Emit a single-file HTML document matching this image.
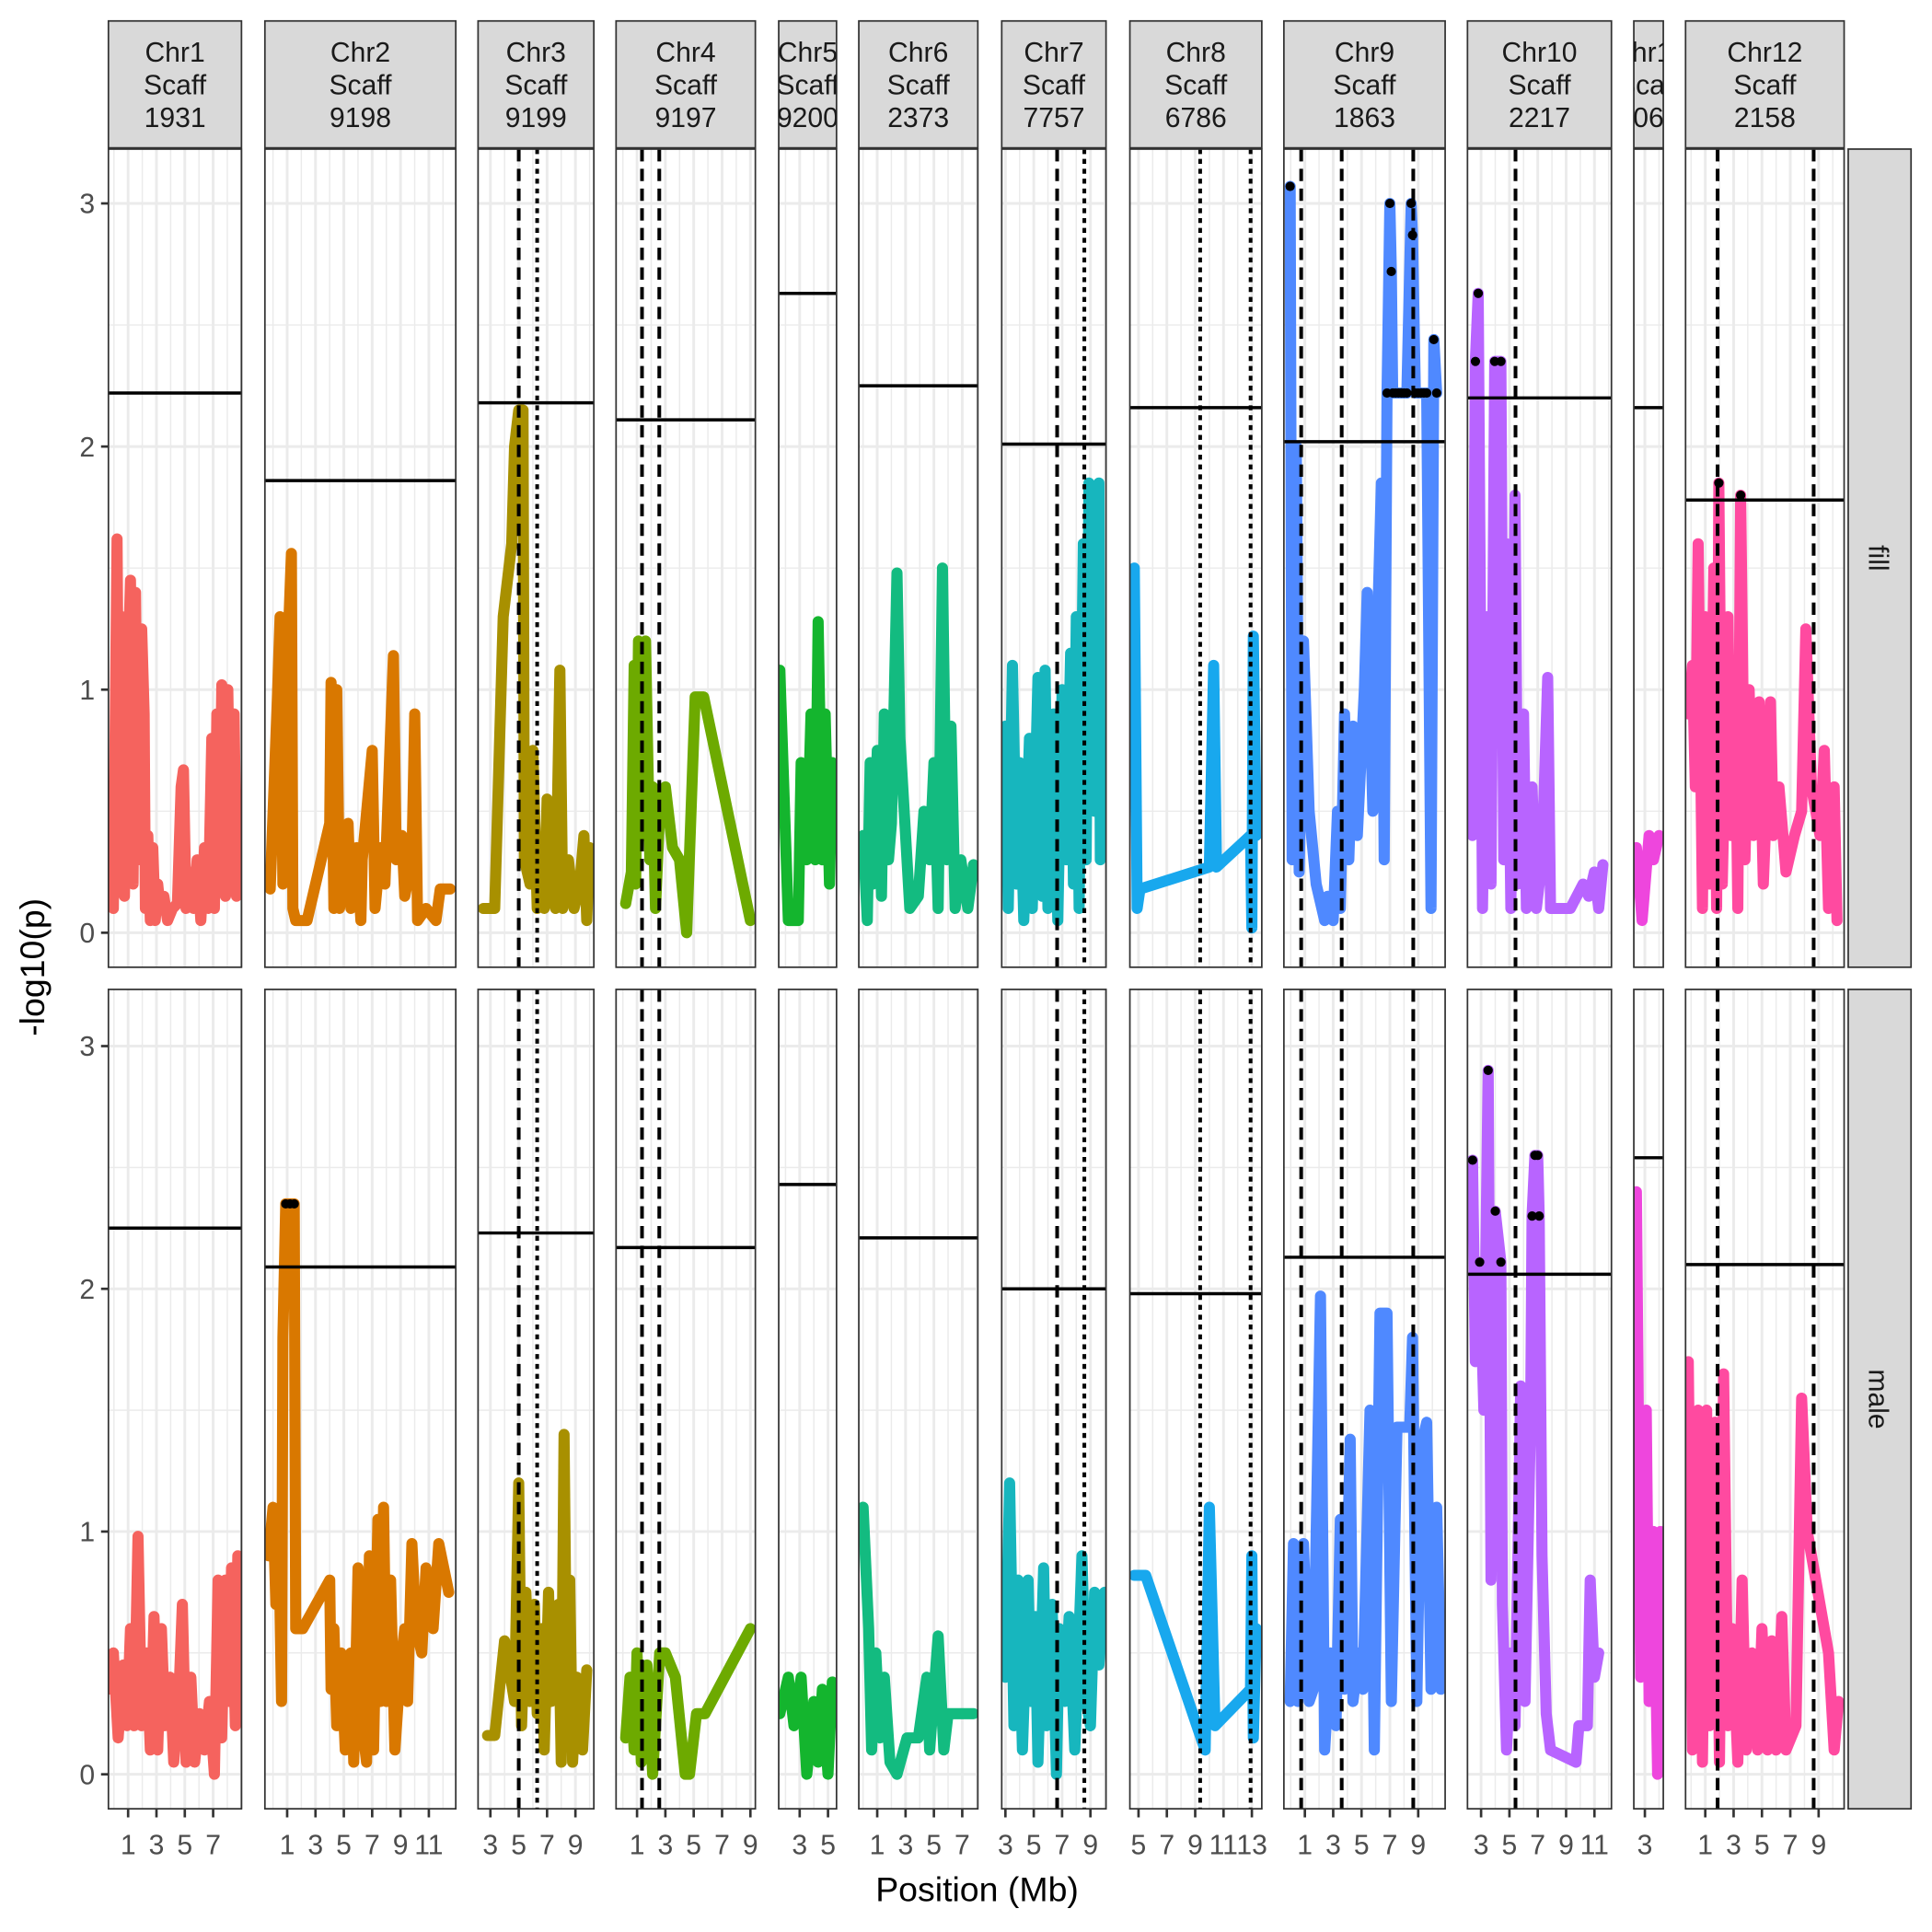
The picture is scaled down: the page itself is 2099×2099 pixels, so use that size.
<!DOCTYPE html>
<html><head><meta charset="utf-8"><style>
html,body{margin:0;padding:0;background:#fff}
svg{display:block}
text{font-family:"Liberation Sans",Arial,sans-serif}
</style></head><body>
<svg id="chart" width="2099" height="2099" viewBox="0 0 1568 1568" xmlns="http://www.w3.org/2000/svg"></svg>
<script>
// ---- data (positions in Mb, values -log10(p)) ----
const chromNames = ["Chr1","Chr2","Chr3","Chr4","Chr5","Chr6","Chr7","Chr8","Chr9","Chr10","Chr11","Chr12"];
const scaffIds = ["1931","9198","9199","9197","9200","2373","7757","6786","1863","2217","2066","2158"];
const threshFill = [2.22,1.86,2.18,2.11,2.63,2.25,2.01,2.16,2.02,2.20,2.16,1.78];
const threshMale = [2.25,2.09,2.23,2.17,2.43,2.21,2.00,1.98,2.13,2.06,2.54,2.10];
const xTicks = [[1,3,5,7],[1,3,5,7,9,11],[3,5,7,9],[1,3,5,7,9],[3,5],[1,3,5,7],[3,5,7,9],[5,7,9,11,13],[1,3,5,7,9],[3,5,7,9,11],[3],[1,3,5,7,9]];
const xDomainStart = [-0.39,-0.57,2.13,-0.48,1.52,-0.30,2.74,4.39,-0.48,2.04,2.22,-0.39];
const xDomainEnd = [9.0,12.9,10.3,9.35,5.6,8.1,10.1,13.7,10.9,12.2,4.3,10.8];
const vDashed = [[],[],[5.0],[1.35,2.57],[],[],[6.65],[],[0.74,3.6,8.65],[5.43],[],[1.87,8.65]];
const vDotted = [[],[],[6.3],[],[],[],[8.57],[9.35,12.91],[],[],[],[]];

const chr1FillPos=[-0.22,-0.04,0.22,0.39,0.57,0.74,1.0,1.17,1.35,1.52,1.7,1.96,2.13,2.22,2.39,2.57,2.74,2.91,3.09,3.26,3.52,3.78,4.13,4.48,4.74,4.91,5.09,5.35,5.61,5.87,6.13,6.39,6.65,6.91,7.09,7.26,7.43,7.61,7.87,8.04,8.22,8.48,8.65];
const chr1FillVal=[0.45,0.1,1.62,0.2,1.3,0.15,1.1,1.45,0.2,1.4,0.3,1.25,0.9,0.1,0.4,0.05,0.35,0.05,0.2,0.1,0.15,0.05,0.1,0.12,0.6,0.67,0.1,0.25,0.1,0.3,0.05,0.35,0.1,0.8,0.1,0.9,0.2,1.02,0.15,1.0,0.3,0.9,0.15];
const chr1MalePos=[-0.22,-0.04,0.3,0.65,0.91,1.17,1.43,1.7,1.96,2.3,2.57,2.83,3.09,3.35,3.6,3.96,4.22,4.57,4.83,5.09,5.43,5.7,6.04,6.39,6.74,7.09,7.35,7.6,7.87,8.13,8.3,8.57,8.74,8.8];
const chr1MaleVal=[0.35,0.5,0.15,0.45,0.2,0.6,0.2,0.98,0.2,0.5,0.1,0.65,0.1,0.6,0.2,0.4,0.05,0.3,0.7,0.05,0.4,0.05,0.25,0.1,0.3,0.0,0.8,0.15,0.8,0.3,0.85,0.2,0.9,0.3];

const chr2FillPos=[-0.2,0.3,0.5,0.7,1.0,1.3,1.4,1.6,2.4,4.0,4.1,4.3,4.5,4.7,5.3,5.5,5.9,6.2,6.3,7.0,7.2,7.6,7.9,8.5,8.7,9.1,9.3,9.8,10.0,10.2,10.8,11.5,11.8,12.5];
const chr2FillVal=[0.18,0.95,1.3,0.2,1.1,1.56,0.1,0.05,0.05,0.45,1.03,0.1,1.0,0.1,0.45,0.1,0.35,0.05,0.3,0.75,0.1,0.35,0.2,1.14,0.3,0.4,0.15,0.3,0.9,0.05,0.1,0.05,0.18,0.18];
const chr2MalePos=[-0.3,0.0,0.2,0.4,0.6,0.7,0.9,1.2,1.5,1.6,2.1,4.0,4.1,4.3,4.5,4.8,5.1,5.5,5.7,6.0,6.3,6.6,6.8,7.1,7.4,7.6,7.8,8.0,8.3,8.6,9.0,9.3,9.5,9.8,10.1,10.5,10.8,11.3,11.7,12.4];
const chr2MaleVal=[0.9,1.1,0.7,1.0,0.3,1.8,2.35,2.35,2.35,0.6,0.6,0.8,0.35,0.6,0.2,0.5,0.1,0.5,0.05,0.85,0.2,0.05,0.9,0.1,1.05,0.3,1.1,0.3,0.8,0.1,0.45,0.6,0.3,0.95,0.6,0.5,0.85,0.6,0.95,0.75];

const chr3FillPos=[2.5,3.3,3.9,4.5,4.7,5.0,5.3,5.4,5.8,6.0,6.3,6.6,6.8,7.0,7.2,7.6,7.9,8.1,8.5,8.9,9.3,9.6,9.8,10.0];
const chr3FillVal=[0.1,0.1,1.3,1.6,2.0,2.15,2.15,0.3,0.2,0.75,0.1,0.3,0.1,0.55,0.2,0.1,1.08,0.1,0.3,0.1,0.2,0.4,0.05,0.35];
const chr3MalePos=[2.8,3.3,4.0,4.7,5.0,5.2,5.5,5.8,6.1,6.3,6.6,6.8,7.1,7.3,7.8,8.0,8.2,8.4,8.6,8.8,9.1,9.5,9.8];
const chr3MaleVal=[0.16,0.16,0.55,0.3,1.2,0.2,0.75,0.3,0.7,0.25,0.6,0.1,0.75,0.3,0.7,0.05,1.4,0.2,0.8,0.05,0.4,0.1,0.43];

const chr4FillPos=[0.2,0.6,0.8,0.9,1.1,1.4,1.6,1.9,2.1,2.3,2.6,3.0,3.5,4.0,4.5,5.1,5.7,9.0];
const chr4FillVal=[0.12,0.25,1.1,0.2,1.2,0.4,1.2,0.3,0.6,0.1,0.5,0.6,0.35,0.3,0.0,0.97,0.97,0.05];
const chr4MalePos=[0.2,0.5,0.8,1.0,1.3,1.7,2.1,2.6,3.0,3.7,4.4,4.7,5.2,5.8,9.0];
const chr4MaleVal=[0.15,0.4,0.1,0.5,0.05,0.45,0.0,0.5,0.5,0.4,0.0,0.0,0.25,0.25,0.6];

const chr5FillPos=[1.6,2.2,2.9,3.1,3.5,3.8,4.1,4.3,4.6,4.8,5.1,5.3];
const chr5FillVal=[1.08,0.05,0.05,0.7,0.3,0.9,0.3,1.28,0.3,0.9,0.2,0.7];
const chr5MalePos=[1.6,2.2,2.6,3.1,3.5,4.0,4.3,4.6,5.0,5.3];
const chr5MaleVal=[0.25,0.4,0.2,0.4,0.0,0.3,0.05,0.35,0.0,0.38];

const chr6FillPos=[0.0,0.3,0.5,0.7,1.0,1.3,1.5,1.8,2.0,2.4,2.6,3.3,3.9,4.3,4.7,5.0,5.3,5.6,5.9,6.2,6.5,6.9,7.4,7.8];
const chr6FillVal=[0.4,0.05,0.7,0.2,0.75,0.15,0.9,0.3,0.45,1.48,0.8,0.1,0.15,0.5,0.3,0.7,0.1,1.5,0.3,0.85,0.1,0.3,0.1,0.28];
const chr6MalePos=[0.0,0.4,0.6,0.9,1.2,1.5,1.9,2.4,3.1,3.9,4.5,4.7,5.3,5.7,6.0,6.6,7.8];
const chr6MaleVal=[1.1,0.6,0.1,0.5,0.15,0.4,0.05,0.0,0.15,0.15,0.4,0.1,0.57,0.1,0.25,0.25,0.25];

const chr7FillPos=[3.0,3.2,3.5,3.8,4.0,4.3,4.7,4.9,5.3,5.6,5.8,6.0,6.4,6.7,7.0,7.3,7.6,7.8,8.0,8.2,8.5,8.7,8.9,9.3,9.6,9.7,10.0];
const chr7FillVal=[0.85,0.1,1.1,0.2,0.7,0.05,0.8,0.1,1.05,0.15,1.08,0.1,0.9,0.05,1.0,0.3,1.15,0.2,1.3,0.1,1.6,0.3,1.85,0.5,1.85,0.3,0.6];
const chr7MalePos=[3.0,3.3,3.6,3.9,4.2,4.6,4.8,5.1,5.3,5.7,5.9,6.3,6.6,6.8,7.2,7.5,7.9,8.4,8.7,9.0,9.3,9.6,10.0];
const chr7MaleVal=[0.4,1.2,0.2,0.8,0.1,0.8,0.3,0.65,0.05,0.85,0.2,0.7,0.0,0.6,0.3,0.65,0.1,0.9,0.3,0.2,0.75,0.45,0.75];

const chr8FillPos=[4.7,4.9,5.1,10.0,10.3,10.5,12.9,13.0,13.1,13.3];
const chr8FillVal=[1.5,0.1,0.18,0.27,1.1,0.27,0.4,0.02,1.22,0.4];
const chr8MalePos=[4.7,5.5,9.7,10.0,10.4,12.9,13.0,13.1,13.3];
const chr8MaleVal=[0.82,0.82,0.1,1.1,0.2,0.35,0.9,0.15,0.6];

const chr9FillPos=[-0.04,0.1,0.4,0.6,0.9,1.3,1.8,2.4,2.6,3.0,3.3,3.5,3.8,4.1,4.4,4.7,5.2,5.4,5.8,6.1,6.4,6.6,6.8,7.0,7.1,7.2,7.4,7.6,7.8,8.0,8.2,8.5,8.6,8.8,9.0,9.2,9.4,9.6,9.9,10.1,10.3];
const chr9FillVal=[3.07,0.3,2.0,0.25,1.2,0.5,0.2,0.05,0.15,0.05,0.5,0.1,0.9,0.3,0.85,0.4,1.0,1.4,0.5,1.2,1.85,0.3,2.22,3.0,2.72,2.22,2.22,2.22,2.22,2.22,2.22,3.0,2.87,2.22,2.22,2.22,2.22,2.22,0.1,2.44,2.22];
const chr9MalePos=[-0.04,0.2,0.5,0.9,1.3,1.6,2.1,2.4,2.8,3.2,3.5,3.8,4.2,4.4,4.8,5.1,5.6,5.9,6.3,6.8,7.1,7.5,8.4,8.6,8.9,9.2,9.6,9.9,10.3,10.6];
const chr9MaleVal=[0.3,0.95,0.3,0.95,0.3,0.35,1.97,0.1,0.5,0.2,1.05,0.35,1.38,0.3,0.5,0.35,1.5,0.1,1.9,1.9,0.3,1.43,1.43,1.8,0.3,1.35,1.45,0.35,1.1,0.35];

const chr10FillPos=[2.4,2.6,2.8,3.1,3.4,3.7,3.96,4.4,4.6,4.8,5.1,5.4,5.6,6.0,6.2,6.6,6.9,7.3,7.7,7.9,8.3,9.3,10.2,10.6,11.0,11.3,11.6];
const chr10FillVal=[0.4,2.35,2.63,0.1,1.3,0.2,2.35,2.35,0.3,1.6,0.1,1.8,0.2,0.9,0.1,0.6,0.1,0.3,1.05,0.1,0.1,0.1,0.2,0.15,0.25,0.1,0.28];
const chr10MalePos=[2.4,2.6,2.9,3.2,3.5,3.7,4.0,4.4,4.5,4.8,5.1,5.4,5.8,6.1,6.5,6.6,6.8,7.0,7.1,7.3,7.6,7.9,9.7,9.9,10.5,10.7,11.0,11.3];
const chr10MaleVal=[2.53,1.7,2.11,1.5,2.9,0.8,2.32,2.11,0.7,0.1,0.5,0.2,1.6,0.3,1.5,2.3,2.55,2.55,2.3,0.9,0.25,0.1,0.05,0.2,0.2,0.8,0.4,0.5];

const chr11FillPos=[2.4,2.8,3.3,3.6,4.0];
const chr11FillVal=[0.35,0.05,0.4,0.3,0.4];
const chr11MalePos=[2.4,2.7,3.1,3.3,3.6,3.9,4.1];
const chr11MaleVal=[2.4,0.4,1.5,0.3,1.0,0.0,1.0];

const chr12FillPos=[-0.2,0.1,0.3,0.5,0.8,1.0,1.3,1.6,1.8,1.96,2.2,2.6,2.8,3.1,3.3,3.5,3.8,4.1,4.4,4.8,5.1,5.6,5.8,6.2,6.7,7.3,7.8,8.1,8.5,9.1,9.4,9.7,10.1,10.3];
const chr12FillVal=[0.9,1.1,0.6,1.6,0.1,1.3,0.2,1.5,0.1,1.85,0.2,1.3,0.4,1.05,0.1,1.8,0.3,1.0,0.4,0.95,0.2,0.95,0.4,0.6,0.25,0.4,0.5,1.25,0.6,0.4,0.75,0.1,0.6,0.05];
const chr12MalePos=[-0.2,0.1,0.5,0.8,1.1,1.3,1.7,2.0,2.3,2.6,2.9,3.3,3.6,3.9,4.3,4.7,5.0,5.4,5.7,6.0,6.4,6.7,7.4,7.8,8.2,9.7,10.1,10.4];
const chr12MaleVal=[1.7,0.1,1.5,0.05,1.5,0.2,1.45,0.05,1.65,0.2,0.6,0.05,0.8,0.1,0.5,0.1,0.6,0.1,0.55,0.1,0.65,0.1,0.2,1.55,1.0,0.5,0.1,0.3];

const fillPosList=[chr1FillPos,chr2FillPos,chr3FillPos,chr4FillPos,chr5FillPos,chr6FillPos,chr7FillPos,chr8FillPos,chr9FillPos,chr10FillPos,chr11FillPos,chr12FillPos];
const fillValList=[chr1FillVal,chr2FillVal,chr3FillVal,chr4FillVal,chr5FillVal,chr6FillVal,chr7FillVal,chr8FillVal,chr9FillVal,chr10FillVal,chr11FillVal,chr12FillVal];
const malePosList=[chr1MalePos,chr2MalePos,chr3MalePos,chr4MalePos,chr5MalePos,chr6MalePos,chr7MalePos,chr8MalePos,chr9MalePos,chr10MalePos,chr11MalePos,chr12MalePos];
const maleValList=[chr1MaleVal,chr2MaleVal,chr3MaleVal,chr4MaleVal,chr5MaleVal,chr6MaleVal,chr7MaleVal,chr8MaleVal,chr9MaleVal,chr10MaleVal,chr11MaleVal,chr12MaleVal];
const yTicks=[0,1,2,3];

// ---- layout ----
const colors=["#F5635E","#D97800","#A89000","#6DAA00","#14B52E","#13BB80","#17B6BE","#18A8EE","#4F89FF","#B864FF","#EE46DD","#FF4AA0"];
const panelLeft=[88,215,388,500,632,697,813,917,1042,1191,1326,1368];
const PPM=11.5;
const rows=[{top:121,bot:785,zero:757,unit:197.3,label:"fill",pos:fillPosList,val:fillValList,th:threshFill},
            {top:803,bot:1468,zero:1440,unit:197,label:"male",pos:malePosList,val:maleValList,th:threshMale}];
const NS="http://www.w3.org/2000/svg";
const svg=document.getElementById('chart');
function mk(tag,attrs,parent){const e=document.createElementNS(NS,tag);for(const k in attrs)e.setAttribute(k,attrs[k]);(parent||svg).appendChild(e);return e;}
mk('rect',{x:0,y:0,width:1568,height:1568,fill:'#fff'});
const defs=mk('defs',{});

function xScale(i,mb){return panelLeft[i]+(mb-xDomainStart[i])*PPM;}
function panelRight(i){return panelLeft[i]+(xDomainEnd[i]-xDomainStart[i])*PPM;}

for(let i=0;i<chromNames.length;i++){
  const L=panelLeft[i],R=panelRight(i);
  const cp=mk('clipPath',{id:'sc'+i},defs);
  mk('rect',{x:L,y:17,width:R-L,height:103},cp);
  const sg=mk('g',{});
  
  
  mk('rect',{x:L,y:17,width:R-L,height:103,fill:'#d9d9d9',stroke:'#333',"stroke-width":1.3},sg);
  const tg=mk('g',{"clip-path":'url(#sc'+i+')'},sg);
  [chromNames[i],"Scaff",scaffIds[i]].forEach((s,k)=>{
    const t=mk('text',{x:(L+R)/2,y:50+k*26.5,"text-anchor":"middle","font-size":22.5,fill:'#1a1a1a'},tg);t.textContent=s;
  });
  for(let r=0;r<2;r++){
    const row=rows[r];
    const yS=v=>row.zero-v*row.unit;
    const g=mk('g',{});
    
    
    const cid='pc'+i+'_'+r;
    const cpp=mk('clipPath',{id:cid},defs);
    mk('rect',{x:L,y:row.top,width:R-L,height:row.bot-row.top},cpp);
    mk('rect',{x:L,y:row.top,width:R-L,height:row.bot-row.top,fill:'#fff'},g);
    for(let v=0;v<=3.5;v+=0.5){const y=yS(v);if(y<row.top||y>row.bot)continue;
      mk('line',{x1:L,x2:R,y1:y,y2:y,stroke:'#ebebeb',"stroke-width":(v%1===0)?2.2:1.1},g);}
    for(let m=Math.ceil(xDomainStart[i]);m<=xDomainEnd[i];m++){const x=xScale(i,m);
      mk('line',{x1:x,x2:x,y1:row.top,y2:row.bot,stroke:'#ebebeb',"stroke-width":(Math.abs(m)%2===1)?2.2:1.1},g);}
    const inner=mk('g',{"clip-path":'url(#'+cid+')'},g);
    const P=row.pos[i],V=row.val[i];
    const d=P.map((p,k)=>(k?'L':'M')+xScale(i,p).toFixed(1)+','+yS(V[k]).toFixed(1)).join('');
    const path=mk('path',{d:d,fill:'none',stroke:colors[i],"stroke-width":9,"stroke-linejoin":"round","stroke-linecap":"round"},inner);
    
    
    vDashed[i].forEach(p=>{const x=xScale(i,p);const l=mk('line',{x1:x,x2:x,y1:row.top,y2:row.bot,stroke:'#000',"stroke-width":3,"stroke-dasharray":"10 6"},inner);
      });
    vDotted[i].forEach(p=>{const x=xScale(i,p);const l=mk('line',{x1:x,x2:x,y1:row.top,y2:row.bot,stroke:'#000',"stroke-width":3,"stroke-dasharray":"4 4"},inner);
      });
    const ty=yS(row.th[i]);
    const tl=mk('line',{x1:L,x2:R,y1:ty,y2:ty,stroke:'#000',"stroke-width":2.6},inner);
    
    P.forEach((p,k)=>{if(V[k]>row.th[i]){const c=mk('circle',{cx:xScale(i,p),cy:yS(V[k]),r:3.8,fill:'#000'},inner);
      }});
    mk('rect',{x:L,y:row.top,width:R-L,height:row.bot-row.top,fill:'none',stroke:'#333',"stroke-width":1.3},g);
    if(i===0){yTicks.forEach(v=>{const y=yS(v);
      mk('line',{x1:82,x2:L,y1:y,y2:y,stroke:'#333',"stroke-width":2});
      const t=mk('text',{x:77,y:y+8,"text-anchor":"end","font-size":22.5,fill:'#4d4d4d'});t.textContent=v;
      });}
  }
  xTicks[i].forEach(tv=>{const x=xScale(i,tv);
    mk('line',{x1:x,x2:x,y1:1468,y2:1475,stroke:'#333',"stroke-width":2});
    const t=mk('text',{x:x,y:1505,"text-anchor":"middle","font-size":22.5,fill:'#4d4d4d'});t.textContent=tv;
    });
}
rows.forEach((row,r)=>{
  const g=mk('g',{});
  
  
  mk('rect',{x:1500,y:row.top,width:51,height:row.bot-row.top,fill:'#d9d9d9',stroke:'#333',"stroke-width":1.3},g);
  const cy=(row.top+row.bot)/2;
  const t=mk('text',{x:1517,y:cy,"text-anchor":"middle","font-size":22.5,fill:'#1a1a1a',transform:'rotate(90 1517 '+cy+')'},g);t.textContent=row.label;
});
const yt=mk('text',{x:36,y:785,"text-anchor":"middle","font-size":28,fill:'#000',transform:'rotate(-90 36 785)'});yt.textContent='-log10(p)';

const xt=mk('text',{x:793,y:1543,"text-anchor":"middle","font-size":28,fill:'#000'});xt.textContent='Position (Mb)';

</script>
</body></html>
